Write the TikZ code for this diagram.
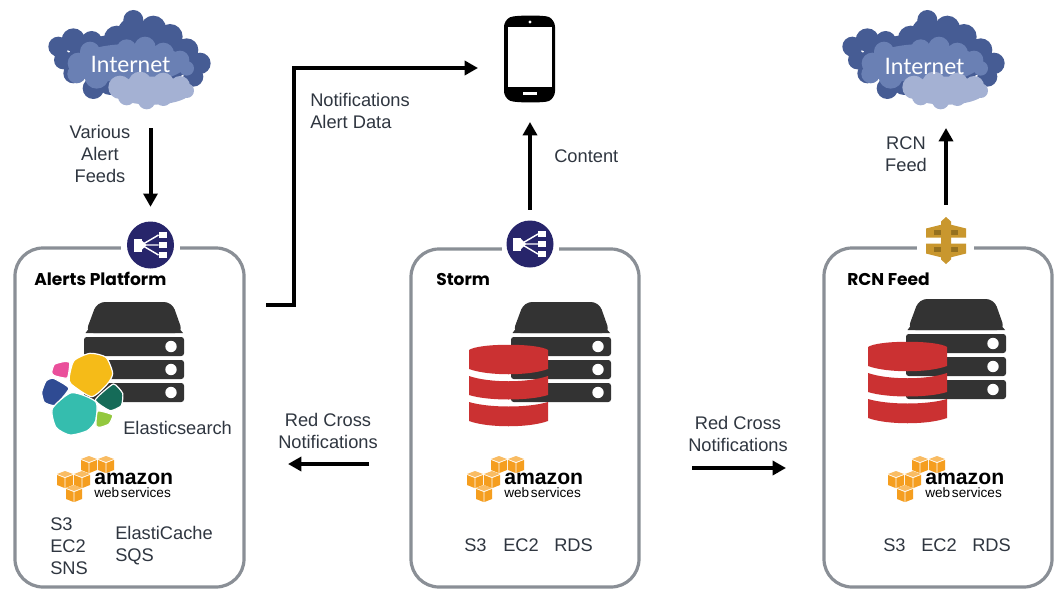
\documentclass[tikz,border=0pt]{standalone}
\usepackage{fontspec}
\setmainfont{Liberation Sans}
\newfontfamily\titlefont{Poppins}
\newfontfamily\cloudfont{Lato}
\definecolor{txt}{HTML}{2F3640}
\definecolor{boxgray}{HTML}{8A8F96}
\definecolor{srv}{HTML}{333333}
\definecolor{dbred}{HTML}{CB3132}
\definecolor{navy}{HTML}{27256B}
\definecolor{gold}{HTML}{C9972E}
\definecolor{golddark}{HTML}{94701F}
\definecolor{awsor}{HTML}{F59E1F}
\definecolor{awstop}{HTML}{F9BC63}
\definecolor{cldA}{HTML}{465C94}
\definecolor{cldB}{HTML}{6A80B4}
\definecolor{cldC}{HTML}{A4B1D3}
\definecolor{esyellow}{HTML}{F5BB18}
\definecolor{espink}{HTML}{EA4F9B}
\definecolor{esblue}{HTML}{2F4B93}
\definecolor{esteal}{HTML}{35BDAE}
\definecolor{esdgreen}{HTML}{156B58}
\definecolor{eslgreen}{HTML}{93C83E}
\usetikzlibrary{arrows.meta}
\tikzset{
  lbl/.style={font=\fontsize{13.7}{16.5}\selectfont,text=txt,inner sep=0pt},
  ttl/.style={font=\titlefont\bfseries\fontsize{12.8}{14}\selectfont,text=black,inner sep=0pt,anchor=west},
  panel/.style={draw=boxgray,line width=2.4pt,rounded corners=21pt},
  gapbox/.style={fill=white,draw=none},
  conn/.style={draw=black,line width=3pt,-{Triangle[length=10pt,width=10.5pt]}},
  hit/.style={inner sep=0pt,outer sep=0pt,minimum width=#1*0.75pt},
  hit/.default=50,
  esfill/.style={fill=#1,draw=white,line width=0.9pt},
  pics/server/.style={code={
    \fill[srv,rounded corners=6pt] (-48.5,31) -- (-37,0) -- (38,0) -- (49,31) -- cycle;
    \fill[srv] (-48.5,31) -- (-44,25) -- (44,25) -- (49,31) -- cycle;
    \foreach \yy in {35,58,81}{
      \fill[srv,rounded corners=2pt] (-50,\yy) rectangle (50,\yy+19);
      \fill[white] (37,\yy+9.5) circle[radius=5.7];
    }
  }},
  pics/dbase/.style={code={
    \fill[dbred] (0,5) .. controls (10,-2) and (69,-2) .. (79,5) -- (79,24) .. controls (60,31) and (19,31) .. (0,24) -- cycle;
    \fill[dbred] (0,31) .. controls (20,38) and (59,38) .. (79,31) -- (79,50) .. controls (60,56) and (19,56) .. (0,50) -- cycle;
    \fill[dbred] (0,57) .. controls (20,63) and (59,63) .. (79,57) -- (79,76) .. controls (60,83) and (19,83) .. (0,76) -- cycle;
  }},
  pics/cube/.style={code={
    \fill[awsor] (-8,-4) -- (-0.4,-1) -- (-0.4,9) -- (-8,6) -- cycle;
    \fill[awsor] (8,-4) -- (0.4,-1) -- (0.4,9) -- (8,6) -- cycle;
    \fill[awstop] (-8,-5) -- (0,-8) -- (8,-5) -- (0,-2) -- cycle;
  }},
  pics/awslogo/.style={code={
    \pic at (32,9) {cube};
    \pic at (49,9) {cube};
    \pic at (8,24) {cube};
    \pic at (25,24) {cube};
    \pic at (17,38) {cube};
    \node[inner sep=0pt,anchor=north west,text=black,align=left,font=\fontsize{10.2}{9.75}\selectfont] at (37,18) {{\bfseries\fontsize{15.9}{9.75}\selectfont amazon}\\web\kern-1.5pt\ services};
  }},
  pics/lbicon/.style={code={
    \fill[navy] (0,0) circle[radius=23.5];
    \fill[white] (-17,-6.5) rectangle (-9,6.5);
    \fill[white] (8,-13) rectangle (16,-7);
    \fill[white] (8,-3) rectangle (16,3);
    \fill[white] (8,7) rectangle (16,13);
    \fill[white] (-9,-5) -- (-4,0) -- (-9,5) -- cycle;
    \draw[white,line width=1.1pt] (-9,0) -- (8,-10) (-9,0) -- (8,0) (-9,0) -- (8,10);
  }},
  pics/apigw/.style={code={
    \fill[gold] (-20,-12) -- (-4,-16) -- (-4,-3) -- (-20,-3) -- cycle;
    \fill[gold] (-20,3) -- (-4,3) -- (-4,17) -- (-20,13) -- cycle;
    \fill[gold] (20,-12) -- (4,-16) -- (4,-3) -- (20,-3) -- cycle;
    \fill[gold] (20,3) -- (4,3) -- (4,17) -- (20,13) -- cycle;
    \fill[golddark] (-12,-11) rectangle (-4,-6);
    \fill[golddark] (-12,6) rectangle (-4,11);
    \fill[golddark] (4,-11) rectangle (12,-6);
    \fill[golddark] (4,6) rectangle (12,11);
    \fill[gold] (-5,-19) -- (0,-23.5) -- (5,-19) -- (5,19) -- (0,23.5) -- (-5,19) -- cycle;
  }},
  pics/cloudshape/.style={code={
    \begin{scope}[xscale=1/3,yscale=1/3]
      \fill[cldA] (300,180) ellipse[x radius=190,y radius=80];
      \foreach \cx/\cy/\r in {85/140/30,130/120/35,185/125/32,260/115/38,310/60/30,310/100/48,370/85/38,420/110/38,470/150/35,510/190/32,490/230/30,100/180/28,130/220/30,190/265/32,240/250/35}
        {\fill[cldA] (\cx,\cy) circle[radius=\r];}
      \fill[cldB] (300,190) ellipse[x radius=170,y radius=58];
      \foreach \cx/\cy/\r in {145/190/32,140/222/28,180/155/30,235/170/30,290/148/30,345/142/32,400/160/32,450/180/28,470/205/22,200/230/36}
        {\fill[cldB] (\cx,\cy) circle[radius=\r];}
      \fill[cldC] (365,272) ellipse[x radius=120,y radius=42];
      \foreach \cx/\cy/\r in {270/262/35,330/250/35,400/250/32,450/258/30,470/272/22,350/302/26,400/292/26,290/290/26}
        {\fill[cldC] (\cx,\cy) circle[radius=\r];}
    \end{scope}
  }},
  pics/elastic/.style={code={
    \begin{scope}[xscale=1/3,yscale=1/3]
      \path[esfill=esyellow] plot[smooth cycle,tension=.4] coordinates {(208,470) (222,422) (270,400) (318,412) (338,460) (322,492) (275,530) (213,492)};
      \path[esfill=espink] plot[smooth cycle,tension=.3] coordinates {(155,457) (163,433) (190,425) (209,428) (202,474) (163,467)};
      \path[esfill=esblue] plot[smooth cycle,tension=.3] coordinates {(125,517) (138,483) (160,475) (207,505) (165,556) (133,547)};
      \path[esfill=esteal] plot[smooth cycle,tension=.4] coordinates {(157,566) (215,518) (287,545) (287,602) (262,632) (210,645) (168,622)};
      \path[esfill=esdgreen] plot[smooth cycle,tension=.3] coordinates {(286,540) (340,492) (368,520) (364,557) (330,572)};
      \path[esfill=eslgreen] plot[smooth cycle,tension=.3] coordinates {(293,573) (338,585) (327,612) (300,622) (288,617)};
    \end{scope}
  }},
}
\begin{document}
\begin{tikzpicture}[x=0.75pt,y=-0.75pt]
\useasboundingbox (0,0) rectangle (1057,589);
\fill[white] (0,0) rectangle (1057,589);

% panels
\draw[panel] (15,248) rectangle (244,587);
\draw[panel] (411,249) rectangle (639,587);
\draw[panel] (824,248) rectangle (1052,587);
\fill[gapbox] (121,240) rectangle (180,256);
\fill[gapbox] (502,240) rectangle (559,256);
\fill[gapbox] (917,240) rectangle (974,256);

% clouds
\pic at (30,0) {cloudshape};
\pic at (824,0) {cloudshape};
\node[inner sep=0pt,text=white,font=\cloudfont\fontsize{17}{18}\selectfont] (inetLtext) at (130.5,64) {Internet};
\node[inner sep=0pt,text=white,font=\cloudfont\fontsize{17}{18}\selectfont] (inetRtext) at (924.5,66) {Internet};
\node[hit=150,minimum height=85.5pt] (inetL) at (130,63) {};
\node[hit=150,minimum height=85.5pt] (inetR) at (946,71) {};

% phone
\node[hit=51,minimum height=64.5pt] (phone) at (530,59) {};
\fill[black,rounded corners=5pt] (504,20) .. controls (515,15) and (545,15) .. (555,20) -- (555,98) .. controls (545,103) and (515,103) .. (504,98) -- cycle;
\fill[white] (508,27) rectangle (552,87);
\fill[white] (530,22) circle[radius=1.6];
\fill[white] (523,92) rectangle (537,95);

% junction icons
\pic at (150.5,245) {lbicon};
\pic at (530,244) {lbicon};
\pic at (946,240.5) {apigw};
\node[hit=47,minimum height=35.25pt] (lbA) at (150.5,245) {};
\node[hit=47,minimum height=35.25pt] (lbS) at (530,244) {};
\node[hit=40,minimum height=36pt] (gw) at (946,240.5) {};

% servers and databases
\pic at (134,302) {server};
\pic at (561,302) {server};
\pic at (956,299) {server};
\pic at (469,345) {dbase};
\pic at (868,342) {dbase};
\pic at (0,220) {elastic};

% AWS
\pic at (57,455) {awslogo};
\pic at (467,455) {awslogo};
\pic at (888,455) {awslogo};

% titles
\node[ttl] (tA) at (34,279) {Alerts Platform};
\node[ttl] (tS) at (436,279) {Storm};
\node[ttl] (tR) at (847,279) {RCN Feed};

% labels
\node[lbl,align=center] (feeds) at (100,154) {Various\\Alert\\Feeds};
\node[lbl,align=left,anchor=west] (notif) at (310,111) {Notifications\\Alert Data};
\node[lbl,anchor=west] (content) at (554,156) {Content};
\node[lbl,align=center] (rcnf) at (906,154) {RCN\\Feed};
\node[lbl,align=center] (rcL) at (328,431) {Red Cross\\Notifications};
\node[lbl,align=center] (rcR) at (738,434) {Red Cross\\Notifications};
\node[lbl,anchor=west] (es) at (123,428) {Elasticsearch};
\node[lbl,align=left,anchor=west] (svcA1) at (50,546) {S3\\EC2\\SNS};
\node[lbl,align=left,anchor=west] (svcA2) at (115,546) {ElastiCache\\SQS};
\node[lbl,anchor=west] (s1) at (464,545) {S3};
\node[lbl,anchor=west] (s2) at (503,545) {EC2};
\node[lbl,anchor=west] (s3) at (554,545) {RDS};
\node[lbl,anchor=west] (r1) at (883,545) {S3};
\node[lbl,anchor=west] (r2) at (921,545) {EC2};
\node[lbl,anchor=west] (r3) at (972,545) {RDS};

% free ends of connectors
\coordinate (apOut) at (266,305);
\coordinate (bend) at (294,305);
\coordinate (phoneIn) at (478,68);
\coordinate (leftA) at (369,464);
\coordinate (leftB) at (288,464);
\coordinate (rightA) at (692,468);
\coordinate (rightB) at (786,468);

% connectors
\draw[conn,shorten <=6pt,shorten >=11pt] (lbA.north |- inetL.south) -- (lbA.north);
\draw[conn] (apOut) -- (bend) |- (phoneIn);
\draw[conn,shorten <=8pt,shorten >=15pt] (lbS.north) -- (lbS.north |- phone.south);
\draw[conn,shorten <=9pt] (gw.north) -- (gw.north |- inetR.south);
\draw[conn] (leftA) -- (leftB);
\draw[conn] (rightA) -- (rightB);
\end{tikzpicture}
\end{document}
